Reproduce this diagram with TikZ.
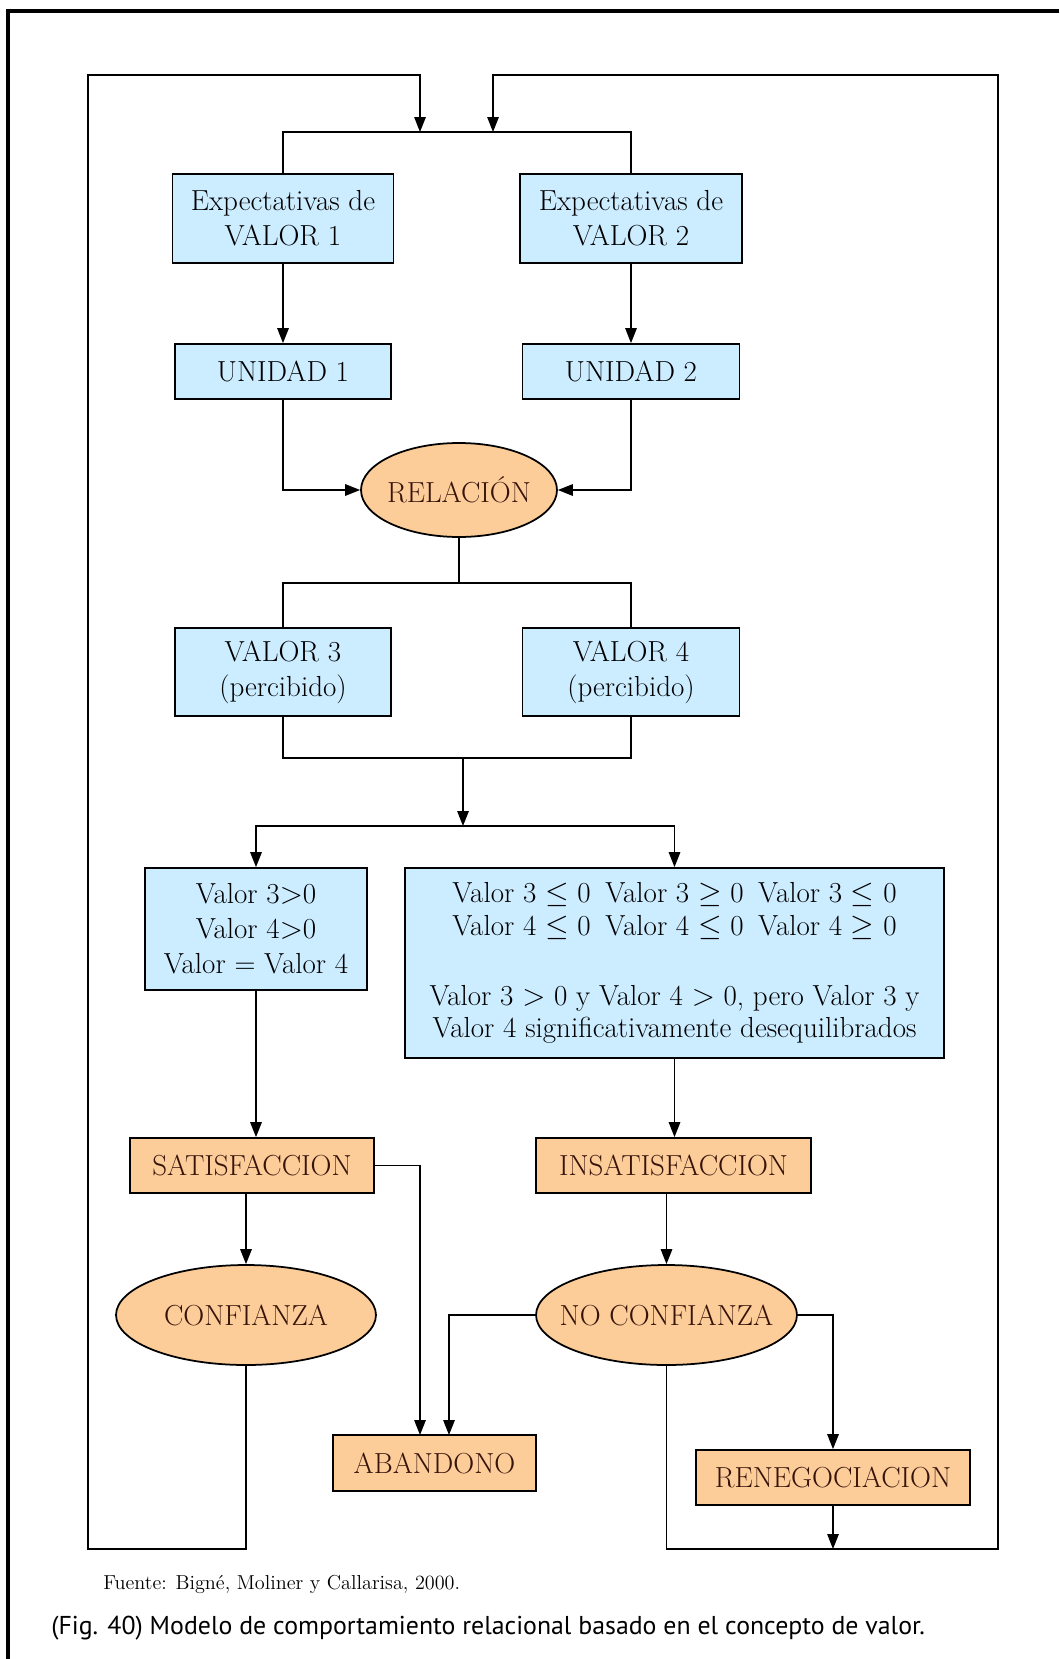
\documentclass[tikz,border=0pt]{standalone}
\usepackage{fontspec}
\usepackage{tikz}
\usetikzlibrary{positioning,arrows.meta,shapes.geometric,calc}
\newfontfamily\piefont{PT Sans}
\definecolor{celeste}{RGB}{204,236,255}
\definecolor{naranja}{RGB}{252,204,153}
\definecolor{marron}{RGB}{55,20,10}

\tikzset{
    caja/.style={draw, line width=1pt, fill=celeste, align=center, inner sep=0pt,
        font=\fontsize{16.5}{20}\selectfont},
    cajanar/.style={caja, fill=naranja, text=marron},
    elipse/.style={ellipse, draw, line width=1pt, fill=naranja, text=marron, inner sep=0pt,
        font=\fontsize{16.5}{20}\selectfont},
    linea/.style={line width=0.8pt},
    flecha/.style={linea, -{Triangle[width=0.23cm,length=0.3cm]}}
}

\begin{document}
\begin{tikzpicture}[x=0.02cm, y=-0.02cm]
    \useasboundingbox (0,0) rectangle (1059,1659);

    % Marco
    \draw[line width=0.07cm] (1059,11) -- (8,11) -- (8,1659);

    % Expectativas y unidades
    \node[caja, minimum width=4.42cm, minimum height=1.78cm] (exp1) at (283,218.5) {Expectativas de\\VALOR 1};
    \node[caja, minimum width=4.44cm, minimum height=1.78cm] (exp2) at (631,218.5) {Expectativas de\\VALOR 2};
    \node[caja, minimum width=4.32cm, minimum height=1.10cm] (uni1) at (283,371.5) {UNIDAD 1};
    \node[caja, minimum width=4.34cm, minimum height=1.10cm] (uni2) at (631,371.5) {UNIDAD 2};

    % Relacion
    \node[elipse, minimum width=3.92cm, minimum height=1.88cm] (rel) at (459,490) {\makebox[0pt]{RELACIÓN}};

    % Valores percibidos
    \node[caja, minimum width=4.32cm, minimum height=1.76cm] (val3) at (283,672) {VALOR 3\\(percibido)};
    \node[caja, minimum width=4.34cm, minimum height=1.76cm] (val4) at (631,672) {VALOR 4\\(percibido)};

    % Condiciones
    \node[caja, minimum width=4.44cm, minimum height=2.44cm] (cond1) at (256,929)
        {Valor 3$>$0\\Valor 4$>$0\\Valor = Valor 4};
    \node[caja, minimum width=10.78cm, minimum height=3.80cm, font=\fontsize{16.5}{18.5}\selectfont] (cond2) at (674.5,963)
        {Valor 3 $\leq$ 0\enspace Valor 3 $\geq$ 0\enspace Valor 3 $\leq$ 0\\
         Valor 4 $\leq$ 0\enspace Valor 4 $\leq$ 0\enspace Valor 4 $\geq$ 0\\[0.75cm]
         Valor 3 $>$ 0 y Valor 4 $>$ 0, pero Valor 3 y\\
         Valor 4 significativamente desequilibrados};

    % Resultados
    \node[cajanar, minimum width=4.88cm, minimum height=1.10cm] (sat) at (252,1165.5) {SATISFACCION};
    \node[cajanar, minimum width=5.50cm, minimum height=1.10cm] (insat) at (673.5,1165.5) {INSATISFACCION};
    \node[elipse, minimum width=5.20cm, minimum height=2.00cm] (conf) at (246,1315) {\makebox[0pt]{CONFIANZA}};
    \node[elipse, minimum width=5.22cm, minimum height=2.00cm] (noconf) at (666.5,1315) {\makebox[0pt]{NO CONFIANZA}};
    \node[cajanar, minimum width=4.06cm, minimum height=1.12cm] (aband) at (434.5,1463) {ABANDONO};
    \node[cajanar, minimum width=5.48cm, minimum height=1.10cm] (reneg) at (833,1477.5) {RENEGOCIACION};

    % Puntos de paso
    \coordinate (supIzq) at (88,75);
    \coordinate (infIzq) at (88,1549);
    \coordinate (supDer) at (998,75);
    \coordinate (infDer) at (998,1549);
    \coordinate (entrada1) at (420,132);
    \coordinate (entrada2) at (493,132);
    \coordinate (barraSup) at (459,132);
    \coordinate (barraMed) at (459,583);
    \coordinate (union) at (463,758);
    \coordinate (reparto) at (463,826);
    \coordinate (bajada1) at (420,1435);
    \coordinate (bajada2) at (449,1435);

    % Bucles de retorno
    \draw[flecha] (conf.south) |- (infIzq) -- (supIzq) -| (entrada1);
    \draw[flecha] (noconf.south) |- (infDer) -- (supDer) -| (entrada2);

    % Parte superior
    \draw[linea] (exp1.north) |- (barraSup) -| (exp2.north);
    \draw[flecha] (exp1) -- (uni1);
    \draw[flecha] (exp2) -- (uni2);
    \draw[flecha] (uni1.south) |- (rel.west);
    \draw[flecha] (uni2.south) |- (rel.east);
    \draw[linea] (rel.south) -- (barraMed);
    \draw[linea] (val3.north) |- (barraMed) -| (val4.north);
    \draw[linea] (val3.south) |- (union) -| (val4.south);
    \draw[flecha] (union) -- (reparto);
    \draw[flecha] (reparto) -| (cond1.north);
    \draw[flecha] (reparto) -| (cond2.north);

    % Parte inferior
    \draw[flecha] (cond1.south) -- (cond1.south |- sat.north);
    \draw[flecha] (cond2.south) -- (cond2.south |- insat.north);
    \draw[flecha] (conf.north |- sat.south) -- (conf.north);
    \draw[flecha] (noconf.north |- insat.south) -- (noconf.north);
    \draw[flecha] (sat.east) -| (bajada1);
    \draw[flecha] (noconf.west) -| (bajada2);
    \draw[flecha] (noconf.east) -| (reneg.north);
    \draw[flecha] (reneg.south) -- (reneg.south |- infDer);

    % Fuente y pie
    \node[anchor=base west, inner sep=0pt, font=\fontsize{11.5}{13}\selectfont] (fuente) at (103,1589)
        {Fuente: Bigné, Moliner y Callarisa, 2000.};
    \node[anchor=base west, inner sep=0pt, font=\piefont\fontsize{14.7}{17}\selectfont] (pie) at (51,1634)
        {(Fig. 40) Modelo de comportamiento relacional basado en el concepto de valor.};
\end{tikzpicture}
\end{document}
